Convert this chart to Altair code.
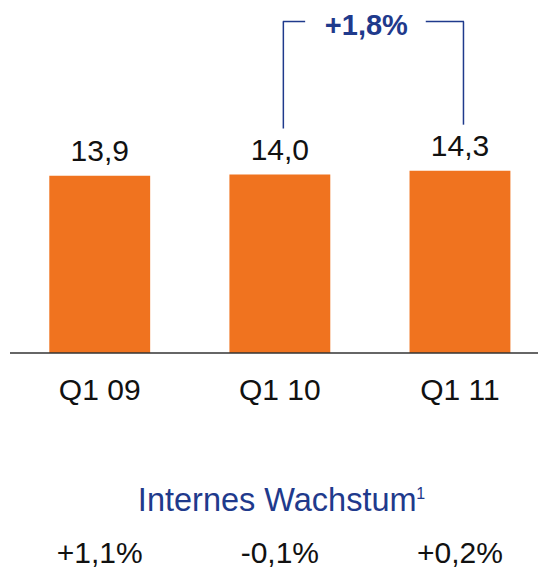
import altair as alt
import pandas as pd

categories = ["Q1 09", "Q1 10", "Q1 11"]
values = [13.9, 14.0, 14.3]
value_labels = ["13,9", "14,0", "14,3"]
growth_labels = ["+1,1%", "-0,1%", "+0,2%"]
growth_title = "Internes Wachstum"
growth_footnote = "1"
change_from = "Q1 10"
change_to = "Q1 11"
change_label = "+1,8%"

ORANGE = "#F0731F"
BLUE = "#1F3A8C"
FONT = "Liberation Sans"
BRACKET_TOP = 26

df = pd.DataFrame({"cat": categories, "value": values,
                   "label": value_labels, "growth": growth_labels,
                   "zero": [0, 0, 0], "top": [BRACKET_TOP] * 3})
bracket_df = df[df["cat"].isin([change_from, change_to])]
one = pd.DataFrame({"change": [change_label], "title": [growth_title],
                    "note": [growth_footnote],
                    "zero": [0], "top": [BRACKET_TOP],
                    "from": [change_from], "to": [change_to]})

xscale = alt.Scale(domain=categories, range=[39.3, 500.4],
                   paddingInner=0.44, paddingOuter=0)
yscale = alt.Scale(domain=[0, 27.06], nice=False, zero=True)


def X(field):
    return alt.X(field + ":N", axis=None, scale=xscale)


def Y(field):
    return alt.Y(field + ":Q", axis=None, scale=yscale)


bars = alt.Chart(df).mark_bar(color=ORANGE).encode(x=X("cat"), y=Y("value"))

value_text = alt.Chart(df).mark_text(
    font=FONT, fontSize=30, color="#111111", dy=-15, baseline="alphabetic"
).encode(x=X("cat"), y=Y("value"), text="label:N")

baseline = alt.Chart(one).mark_rule(color="#333333", strokeWidth=1.5).encode(
    y=Y("zero"), x=alt.value(0), x2=alt.value(528))

cat_text = alt.Chart(df).mark_text(
    font=FONT, fontSize=30, color="#111111", dy=47, baseline="alphabetic"
).encode(x=X("cat"), y=Y("zero"), text="cat:N")

title_text = alt.Chart(one).mark_text(
    font=FONT, fontSize=32.5, color=BLUE, dy=157.5, dx=-142,
    align="left", baseline="alphabetic"
).encode(x=X("from"), y=Y("zero"), text="title:N")

note_text = alt.Chart(one).mark_text(
    font=FONT, fontSize=16, color=BLUE, dy=146, dx=136.5,
    align="left", baseline="alphabetic"
).encode(x=X("from"), y=Y("zero"), text="note:N")

growth_text = alt.Chart(df).mark_text(
    font=FONT, fontSize=30, color="#111111", dy=210, baseline="alphabetic"
).encode(x=X("cat"), y=Y("zero"), text="growth:N")

bracket_v = alt.Chart(bracket_df).mark_rule(
    color=BLUE, strokeWidth=1.5, xOffset=3.5, yOffset=-46
).encode(x=X("cat"), y=Y("value"), y2="top:Q")

bracket_left = alt.Chart(one).mark_rule(
    color=BLUE, strokeWidth=1.5, xOffset=3, x2Offset=25.3
).encode(x=X("from"), x2="from:N", y=Y("top"))

bracket_right = alt.Chart(one).mark_rule(
    color=BLUE, strokeWidth=1.5, xOffset=-34.2, x2Offset=4
).encode(x=X("to"), x2="to:N", y=Y("top"))

change_text = alt.Chart(one).mark_text(
    font=FONT, fontSize=29, fontWeight="bold", color=BLUE,
    dx=86.5, dy=13.5, baseline="alphabetic"
).encode(x=X("from"), y=Y("top"), text="change:N")

chart = alt.layer(
    bars, value_text, baseline, cat_text, title_text, note_text, growth_text,
    bracket_v, bracket_left, bracket_right, change_text
).properties(
    width=528, height=345,
    autosize=alt.AutoSizeParams(type="none"),
    padding={"left": 2, "top": 0, "right": 0, "bottom": 217},
).configure_view(stroke=None)

chart.save("out.html", embed_options={"renderer": "svg", "actions": False})
